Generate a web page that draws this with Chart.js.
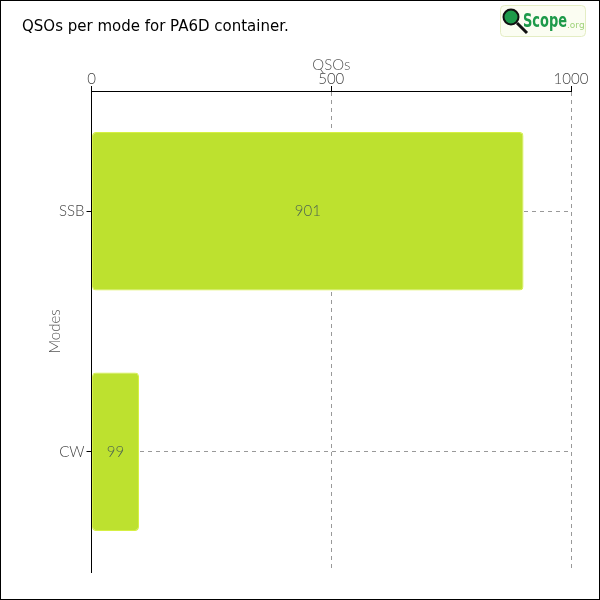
<!DOCTYPE html>
<html>
<head>
<meta charset="utf-8">
<script src="https://cdn.jsdelivr.net/npm/chart.js@4"></script>
<style>
  body { margin: 0; background: #fff; }
  #box { width: 600px; height: 600px; box-sizing: border-box; border: 1px solid #000; }
  canvas { display: block; }
</style>
</head>
<body>
<div id="box"><canvas id="chart" width="598" height="598"></canvas></div>
<script>
// data
var modes = ['SSB', 'CW'];
var qsos = [901, 99];
var xTicks = [0, 500, 1000];
var chartTitle = 'QSOs per mode for PA6D container.';

var tickFont = { family: 'Lato', size: 15, weight: '300' };

// value labels in the middle of each bar
var barLabels = {
    id: 'barLabels',
    afterDatasetsDraw: function (chart) {
        var ctx = chart.ctx;
        var meta = chart.getDatasetMeta(0);
        ctx.save();
        ctx.font = '300 15px Lato';
        ctx.fillStyle = '#4f6650';
        ctx.textAlign = 'center';
        ctx.textBaseline = 'middle';
        meta.data.forEach(function (bar, i) {
            var x = (bar.x + bar.base) / 2;
            ctx.fillText(String(qsos[i]), x, bar.y);
        });
        ctx.restore();
    }
};

// title top left + QScope.org logo top right
var header = {
    id: 'header',
    afterDraw: function (chart) {
        var ctx = chart.ctx;
        ctx.save();
        ctx.fillStyle = '#000';
        ctx.font = '15px "DejaVu Sans"';
        ctx.textBaseline = 'middle';
        ctx.fillText(chartTitle, 21, 26);

        ctx.fillStyle = '#fbfdf2';
        ctx.strokeStyle = '#e4edc4';
        ctx.lineWidth = 1;
        ctx.beginPath();
        ctx.roundRect(499.5, 4.5, 85, 31, 4);
        ctx.fill();
        ctx.stroke();
        // magnifier
        ctx.strokeStyle = '#111';
        ctx.lineWidth = 3;
        ctx.beginPath();
        ctx.moveTo(516, 22);
        ctx.lineTo(526, 32);
        ctx.stroke();
        ctx.fillStyle = '#1d9a4a';
        ctx.beginPath();
        ctx.arc(510, 16, 7.5, 0, Math.PI * 2);
        ctx.fill();
        ctx.lineWidth = 2;
        ctx.stroke();
        // word mark squeezed to the logo width
        ctx.textBaseline = 'alphabetic';
        ctx.font = 'bold 20px "DejaVu Sans"';
        var w = ctx.measureText('Scope').width;
        ctx.save();
        ctx.translate(522, 26);
        ctx.scale(44 / w, 1);
        ctx.fillText('Scope', 0, 0);
        ctx.restore();
        ctx.fillStyle = '#9fd27a';
        ctx.font = '9px "DejaVu Sans"';
        ctx.fillText('.org', 566, 27);
        ctx.restore();
    }
};

var chart = new Chart(document.getElementById('chart').getContext('2d'), {
    type: 'bar',
    data: {
        labels: modes,
        datasets: [{
            label: 'QSOs',
            data: qsos,
            backgroundColor: '#bde12f',
            borderColor: '#d6f043',
            borderWidth: 1,
            borderSkipped: false,
            borderRadius: 4,
            barPercentage: 0.66,
            categoryPercentage: 1
        }]
    },
    options: {
        indexAxis: 'y',
        responsive: false,
        animation: false,
        layout: { padding: { left: 45, right: 28, top: 55, bottom: 27 } },
        plugins: {
            legend: { display: false },
            tooltip: { enabled: false },
            title: { display: false }
        },
        scales: {
            x: {
                position: 'top',
                min: 0,
                max: 1000,
                afterBuildTicks: function (axis) {
                    axis.ticks = xTicks.map(function (v) { return { value: v }; });
                },
                title: {
                    display: true,
                    text: 'QSOs',
                    color: '#555',
                    font: tickFont,
                    padding: { top: 0, bottom: -2 }
                },
                ticks: {
                    color: '#444',
                    font: tickFont,
                    padding: -2,
                    maxRotation: 0,
                    callback: function (v) { return String(v); }
                },
                grid: { color: '#999', tickColor: '#000', tickLength: 5 },
                border: { color: '#000', width: 1, dash: [4, 4] }
            },
            y: {
                title: {
                    display: true,
                    text: 'Modes',
                    color: '#555',
                    font: tickFont,
                    padding: { top: 0, bottom: -7 }
                },
                ticks: { color: '#444', font: tickFont, padding: 2 },
                grid: { color: '#999', offset: false, tickColor: '#000', tickLength: 5 },
                border: { color: '#000', width: 1, dash: [4, 4] }
            }
        }
    },
    plugins: [barLabels, header]
});
</script>
</body>
</html>
